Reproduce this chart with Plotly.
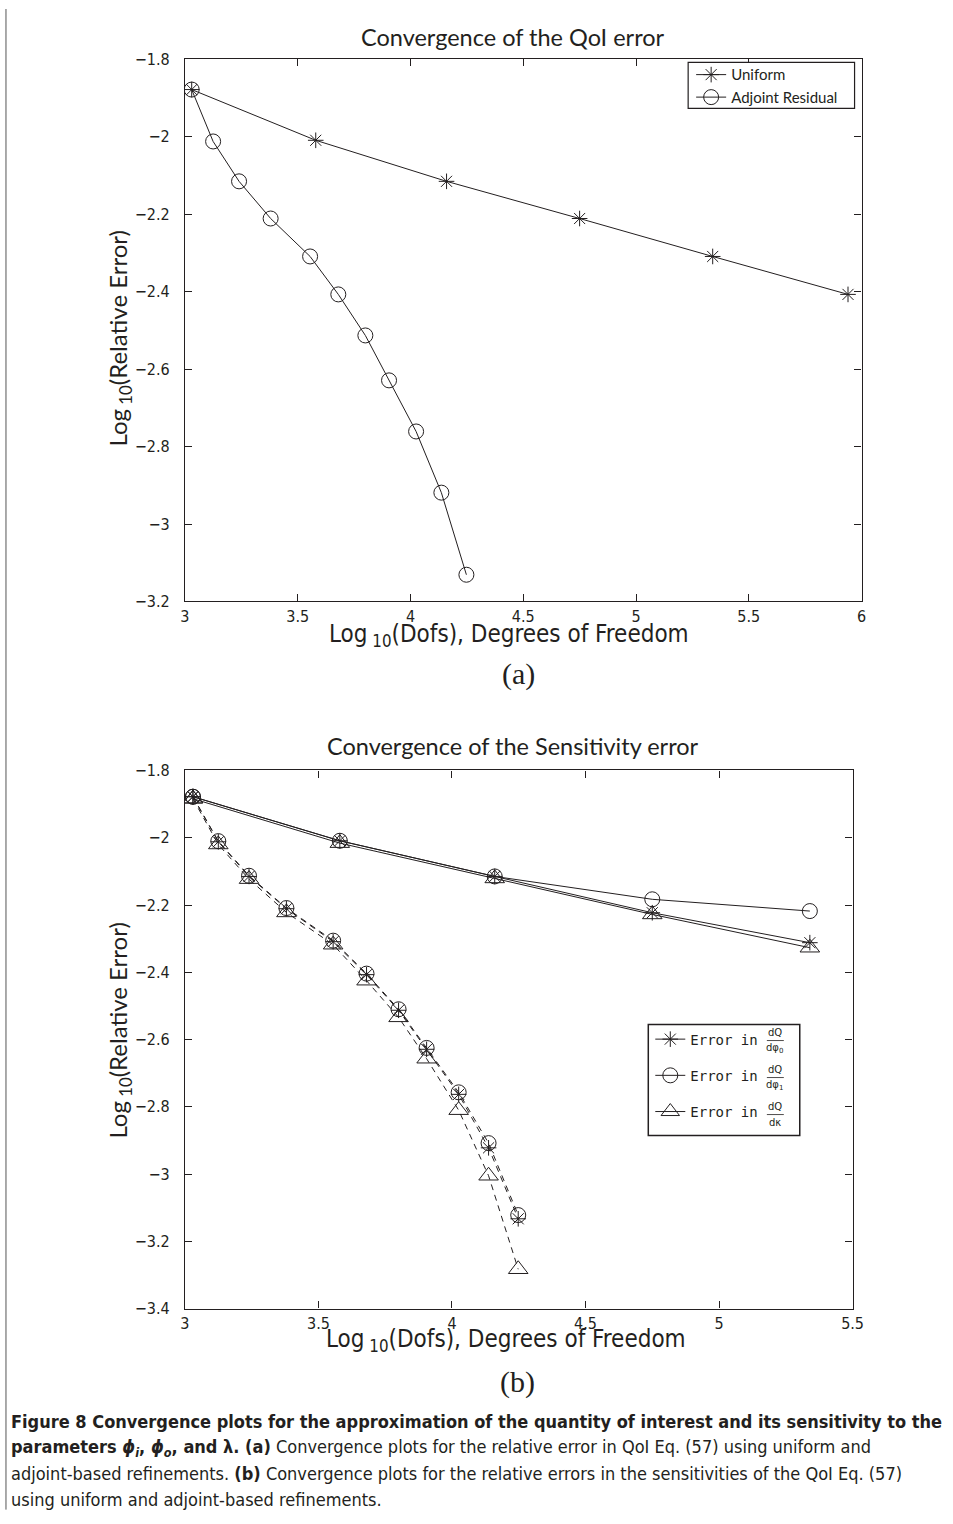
import plotly.graph_objects as go

# ---------------- data ----------------
# (a) QoI error
xa_uniform = [3.03, 3.58, 4.16, 4.75, 5.34, 5.94]
ya_uniform = [-1.878, -2.009, -2.115, -2.211, -2.309, -2.407]
xa_adjoint = [3.03, 3.125, 3.24, 3.38, 3.555, 3.68, 3.80, 3.905, 4.025, 4.137, 4.248]
ya_adjoint = [-1.878, -2.012, -2.115, -2.211, -2.309, -2.407, -2.513, -2.629, -2.761, -2.919, -3.131]

# (b) Sensitivity errors
xb_uniform = [3.03, 3.58, 4.16, 4.75, 5.34]
yb_uni_phi0 = [-1.878, -2.009, -2.115, -2.223, -2.312]
yb_uni_phi1 = [-1.878, -2.009, -2.115, -2.183, -2.218]
yb_uni_kappa = [-1.884, -2.016, -2.121, -2.228, -2.327]
xb_adjoint = [3.03, 3.125, 3.24, 3.38, 3.555, 3.68, 3.80, 3.905, 4.025, 4.137, 4.248]
yb_adj_phi0 = [-1.878, -2.012, -2.115, -2.211, -2.309, -2.407, -2.513, -2.629, -2.763, -2.922, -3.133]
yb_adj_phi1 = [-1.878, -2.010, -2.113, -2.209, -2.306, -2.404, -2.510, -2.625, -2.757, -2.908, -3.122]
yb_adj_kappa = [-1.884, -2.020, -2.123, -2.222, -2.318, -2.425, -2.534, -2.657, -2.810, -3.005, -3.283]

legend_a = ["Uniform", "Adjoint Residual"]
fractions_b = ["dφ<sub>0</sub>", "dφ<sub>1</sub>", "dκ"]

# ---------------- styling helpers ----------------
W, H = 953, 1524
INK = "#231f20"
def X(x):   # layout pixel -> paper
    return (183 + (x - 183) * 1.0135) / W
def Y(y):
    return 1 - (51 + (y - 59) * 1.0128) / H
def PX(x):  # raw pixel, no correction
    return x / W

NARROW = "Liberation Sans Narrow, DejaVu Sans Condensed, Arial Narrow, sans-serif"
REG = "Lato, Open Sans, sans-serif"
MONO = "DejaVu Sans Mono, monospace"

fig = go.Figure()

# ---------------- panel (a) ----------------
fig.add_trace(go.Scatter(
    x=xa_uniform, y=ya_uniform, mode="lines+markers", name=legend_a[0],
    line=dict(color=INK, width=1),
    marker=dict(symbol="asterisk-open", size=13, color=INK, line=dict(color=INK, width=1)),
    xaxis="x", yaxis="y", legend="legend"))
fig.add_trace(go.Scatter(
    x=xa_adjoint, y=ya_adjoint, mode="lines+markers", name=legend_a[1],
    line=dict(color=INK, width=1),
    marker=dict(symbol="circle-open", size=15, color=INK, line=dict(color=INK, width=1)),
    xaxis="x", yaxis="y", legend="legend"))

# ---------------- panel (b) ----------------
series_b = [
    (yb_uni_phi0, yb_adj_phi0, "asterisk-open", 13),
    (yb_uni_phi1, yb_adj_phi1, "circle-open", 15),
    (yb_uni_kappa, yb_adj_kappa, "triangle-up-open", 17),
]
for i, (yu, ya, sym, sz) in enumerate(series_b):
    fig.add_trace(go.Scatter(
        x=xb_uniform, y=yu, mode="lines+markers", name="Error in",
        line=dict(color=INK, width=1),
        marker=dict(symbol=sym, size=sz, color=INK, line=dict(color=INK, width=1)),
        xaxis="x2", yaxis="y2", legend="legend2", legendgroup="g%d" % i))
    fig.add_trace(go.Scatter(
        x=xb_adjoint, y=ya, mode="lines+markers", showlegend=False,
        line=dict(color=INK, width=1, dash="6px,5px"),
        marker=dict(symbol=sym, size=sz, color=INK, line=dict(color=INK, width=1)),
        xaxis="x2", yaxis="y2", legendgroup="g%d" % i))

axis_common = dict(
    showline=True, linecolor=INK, linewidth=1.2, mirror="ticks",
    ticks="inside", ticklen=7, tickcolor=INK, tickwidth=1,
    showgrid=False, zeroline=False,
    tickfont=dict(family=NARROW, size=16, color=INK),
)

fig.update_layout(
    width=W, height=H,
    margin=dict(l=0, r=0, t=0, b=0),
    paper_bgcolor="white", plot_bgcolor="white",
    xaxis=dict(domain=[X(183), X(862)], range=[3, 6], dtick=0.5, anchor="y", **axis_common),
    yaxis=dict(domain=[Y(601), Y(59)], range=[-3.2, -1.8], dtick=0.2, anchor="x",
               ticklabelstandoff=11, **axis_common),
    xaxis2=dict(domain=[X(183), X(853)], range=[3, 5.5], dtick=0.5, anchor="y2", **axis_common),
    yaxis2=dict(domain=[Y(1308), Y(770)], range=[-3.4, -1.8], dtick=0.2, anchor="x2",
                ticklabelstandoff=11, **axis_common),
    legend=dict(x=X(691), y=Y(58), xanchor="left", yanchor="top",
                bordercolor="rgba(0,0,0,0)", borderwidth=0, bgcolor="rgba(0,0,0,0)",
                font=dict(family=REG, size=15, color=INK), tracegroupgap=0),
    legend2=dict(x=X(650), y=Y(1023), xanchor="left", yanchor="top",
                 bordercolor="rgba(0,0,0,0)", borderwidth=0, bgcolor="rgba(0,0,0,0)",
                 traceorder="grouped", tracegroupgap=15,
                 font=dict(family=MONO, size=14, color=INK)),
    showlegend=True,
)

ann = []
def text(x, y, s, size, family, **kw):
    d = dict(x=x, y=y, xref="paper", yref="paper", text=s, showarrow=False,
             font=dict(family=family, size=size, color=INK), xanchor="center", yanchor="middle")
    d.update(kw)
    ann.append(d)

# titles
text(X(512), Y(37), "Convergence of the QoI error", 23.5, REG)
text(X(512), Y(746), "Convergence of the Sensitivity error", 23.5, REG)
# x-axis titles
text(X(508), Y(635), "Log<sub> 10</sub>(Dofs), Degrees of Freedom", 24, NARROW)
text(X(505), Y(1340), "Log<sub> 10</sub>(Dofs), Degrees of Freedom", 24, NARROW)
# y-axis titles
text(PX(116), Y(338), "Log<sub> 10</sub>(Relative Error)", 24, REG, textangle=-90)
text(PX(116), Y(1030), "Log<sub> 10</sub>(Relative Error)", 24, REG, textangle=-90)
# panel labels
text(X(518), Y(674), "(a)", 30, "Liberation Serif, DejaVu Serif, serif")
text(X(517), Y(1381), "(b)", 30, "Liberation Serif, DejaVu Serif, serif")

shapes = []
# legend boxes
shapes.append(dict(type="rect", xref="paper", yref="paper", layer="above",
                   x0=X(688), x1=X(855), y0=Y(108), y1=Y(62),
                   fillcolor="white", line=dict(color=INK, width=1.2)))
shapes.append(dict(type="rect", xref="paper", yref="paper", layer="above",
                   x0=X(648), x1=X(800), y0=Y(1135), y1=Y(1024),
                   fillcolor="white", line=dict(color=INK, width=1.5)))
# legend fractions for (b)
frac_y = [1040, 1077, 1114]
for fy, den in zip(frac_y, fractions_b):
    text(X(775), Y(fy - 8), "dQ", 10, "DejaVu Sans, sans-serif")
    text(X(775), Y(fy + 8), den, 10, "DejaVu Sans, sans-serif")
    shapes.append(dict(type="line", xref="paper", yref="paper", layer="above",
                       x0=X(767), x1=X(784), y0=Y(fy), y1=Y(fy),
                       line=dict(color=INK, width=0.8)))

# caption
CAP = 18
cap_lines = [
    "<b>Figure 8 Convergence plots for the approximation of the quantity of interest and its sensitivity to the</b>",
    "<b>parameters <i>ϕ<sub>i</sub></i>, <i>ϕ<sub>o</sub></i>, and λ. (a)</b> Convergence plots for the relative error in QoI Eq. (57) using uniform and",
    "adjoint-based refinements. <b>(b)</b> Convergence plots for the relative errors in the sensitivities of the QoI Eq. (57)",
    "using uniform and adjoint-based refinements.",
]
for k, line in enumerate(cap_lines):
    text(PX(4), Y(1421 + 26 * k), line, CAP, NARROW, xanchor="left")

# page border on the left
shapes.append(dict(type="line", xref="paper", yref="paper", x0=PX(1), x1=PX(1),
                   y0=1, y1=Y(1509), line=dict(color="#555555", width=1)))

fig.update_layout(annotations=ann, shapes=shapes)

fig.write_html("out.html", config={"displayModeBar": False},
               post_script="document.body.style.margin='0px';document.body.style.overflow='hidden';")
